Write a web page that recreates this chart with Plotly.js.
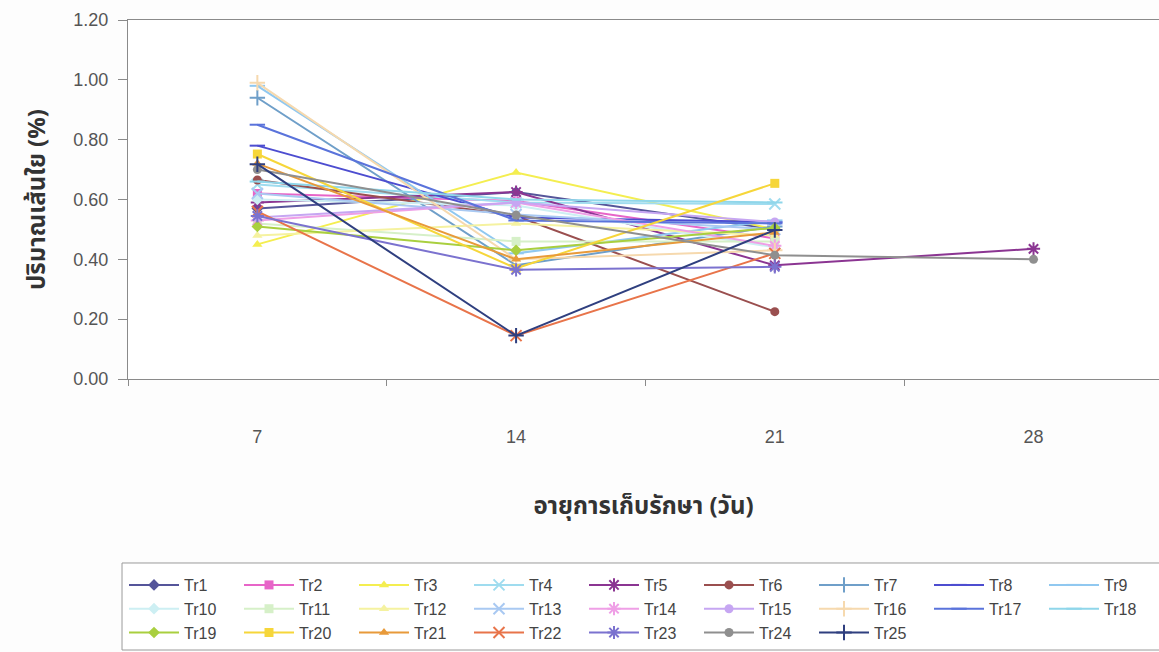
<!DOCTYPE html>
<html>
<head>
<meta charset="utf-8">
<script src="https://cdn.plot.ly/plotly-3.0.1.min.js"></script>
<style>
  html, body { margin: 0; padding: 0; background: #ffffff; }
  #chart { width: 1159px; height: 652px; }
</style>
</head>
<body>
<div id="chart"></div>
<script>
// Storage age (days) on the category axis
const days = ['7', '14', '21', '28'];

// Fibre content (%) per treatment, one value per storage age
const tr1  = [0.57, 0.625, 0.50, null];
const tr2  = [0.62, 0.595, 0.47, null];
const tr3  = [0.45, 0.69, 0.50, null];
const tr4  = [0.65, 0.59, 0.585, null];
const tr5  = [0.59, 0.625, 0.38, 0.435];
const tr6  = [0.665, 0.545, 0.225, null];
const tr7  = [0.94, 0.38, 0.51, null];
const tr8  = [0.78, 0.54, 0.525, null];
const tr9  = [0.98, 0.42, 0.53, null];
const tr10 = [0.60, 0.58, 0.44, null];
const tr11 = [0.52, 0.46, 0.46, null];
const tr12 = [0.48, 0.52, 0.48, null];
const tr13 = [0.62, 0.55, 0.50, null];
const tr14 = [0.53, 0.59, 0.445, null];
const tr15 = [0.54, 0.59, 0.525, null];
const tr16 = [0.99, 0.40, 0.43, null];
const tr17 = [0.85, 0.53, 0.52, null];
const tr18 = [0.66, 0.60, 0.59, null];
const tr19 = [0.51, 0.43, 0.505, null];
const tr20 = [0.752, 0.37, 0.654, null];
const tr21 = [0.72, 0.40, 0.49, null];
const tr22 = [0.56, 0.145, 0.42, null];
const tr23 = [0.545, 0.365, 0.375, null];
const tr24 = [0.70, 0.548, 0.414, 0.40];
const tr25 = [0.718, 0.145, 0.498, null];

const names = ['Tr1','Tr2','Tr3','Tr4','Tr5','Tr6','Tr7','Tr8','Tr9','Tr10',
  'Tr11','Tr12','Tr13','Tr14','Tr15','Tr16','Tr17','Tr18','Tr19','Tr20',
  'Tr21','Tr22','Tr23','Tr24','Tr25'];
const values = [tr1,tr2,tr3,tr4,tr5,tr6,tr7,tr8,tr9,tr10,tr11,tr12,tr13,
  tr14,tr15,tr16,tr17,tr18,tr19,tr20,tr21,tr22,tr23,tr24,tr25];

// Spreadsheet-style palette and marker cycle
const colors = ['#55559a','#e765c8','#f4ee50','#9fdcef','#8b3592','#9a4f4f',
  '#6f9fc9','#4d4dd0','#90c8f0','#cdeff3','#d6f0c8','#f5f2a0','#a9c9f2',
  '#ef9fe6','#c6a6f2','#f6d9ae','#5a73db','#8fd6ea','#a9cf3f','#f6d63a',
  '#e89a3a','#e8744a','#7b72cf','#8f8f8f','#2f3f7f'];
const symbols = ['diamond','square','triangle-up','x-thin-open','asterisk-open',
  'circle','cross-thin-open','line-ew-open','line-ew-open'];

const traces = values.map((v, i) => {
  const sym = symbols[i % 9];
  const open = sym.indexOf('open') >= 0;
  return {
    type: 'scatter',
    mode: 'lines+markers',
    name: names[i],
    x: days,
    y: v,
    line: { color: colors[i], width: 2 },
    marker: {
      symbol: sym,
      size: open ? 11 : 9,
      color: colors[i],
      line: { color: colors[i], width: open ? 2 : 0 }
    }
  };
});

const tickFont = { family: 'Liberation Sans, Arial, sans-serif', size: 18, color: '#555' };
const thaiFont = { family: 'Noto Sans Thai, Tahoma, Leelawadee UI, DejaVu Sans, sans-serif', size: 24, color: '#333', weight: 'bold' };

const layout = {
  width: 1159,
  height: 652,
  paper_bgcolor: '#fdfdfd',
  plot_bgcolor: '#ffffff',
  margin: { l: 128, r: 0, t: 20, b: 273 },
  showlegend: true,
  xaxis: {
    type: 'category',
    range: [-0.5, 3.485],
    showgrid: false,
    zeroline: false,
    showline: true,
    mirror: true,
    linecolor: '#8a8a8a',
    linewidth: 1,
    ticks: 'outside',
    tickson: 'boundaries',
    ticklen: 6,
    tickcolor: '#8a8a8a',
    tickfont: tickFont,
    ticklabelstandoff: 41,
    title: { text: 'อายุการเก็บรักษา (วัน)', font: thaiFont, standoff: 51 }
  },
  yaxis: {
    range: [0, 1.2],
    dtick: 0.2,
    tickformat: '.2f',
    showgrid: false,
    zeroline: false,
    showline: true,
    linecolor: '#8a8a8a',
    linewidth: 1,
    ticks: 'outside',
    ticklen: 9,
    tickcolor: '#8a8a8a',
    tickfont: tickFont,
    ticklabelstandoff: 6,
    title: { text: 'ปริมาณเส้นใย (%)', font: thaiFont, standoff: 20 }
  },
  // frame behind the legend entries
  shapes: [{
    type: 'rect',
    xref: 'paper', yref: 'paper',
    x0: -0.0058, x1: 1.02,
    y0: -0.5125, y1: -0.7549,
    line: { color: '#9a9a9a', width: 1 },
    fillcolor: '#ffffff',
    layer: 'below'
  }],
  legend: {
    orientation: 'h',
    x: 0,
    xanchor: 'left',
    y: -0.5265,
    yanchor: 'top',
    bgcolor: 'rgba(0,0,0,0)',
    borderwidth: 0,
    itemwidth: 50,
    entrywidth: 50,
    entrywidthmode: 'pixels',
    font: { family: 'Liberation Sans, Arial, sans-serif', size: 16, color: '#444' },
    tracegroupgap: 0
  }
};

Plotly.newPlot('chart', traces, layout, { displayModeBar: false, staticPlot: true });
</script>
</body>
</html>
